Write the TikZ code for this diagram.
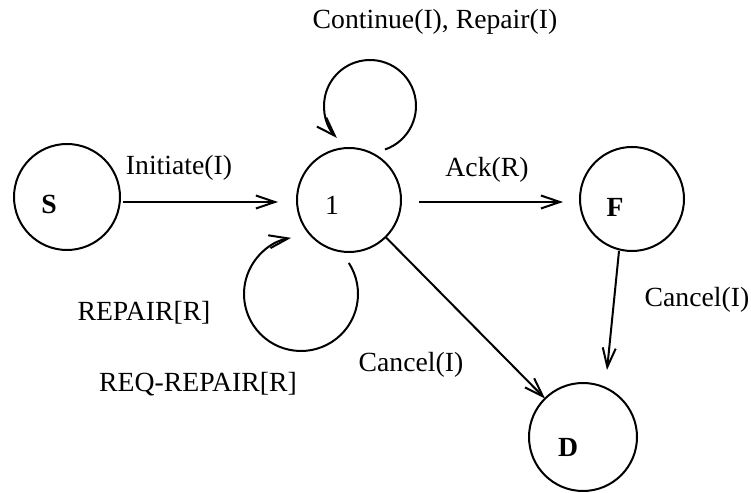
\documentclass[tikz,border=0pt]{standalone}
\usepackage{fontspec}
\setmainfont{Liberation Serif}
\usetikzlibrary{arrows.meta}
\begin{document}
\begin{tikzpicture}[x=1pt,y=1pt,
  state/.style={draw,circle,line width=2pt,inner sep=0pt,outer sep=0pt},
  arr/.style={line width=2pt,-{Straight Barb[length=19pt,width=13pt,line width=2pt]}},
  txt/.style={inner sep=0pt,font=\fontsize{27.7}{30}\selectfont},
  stxt/.style={txt,font=\fontsize{27.7}{30}\selectfont\bfseries}]
\useasboundingbox (0,0) rectangle (751,492);
\fill[white] (0,0) rectangle (751,492);

% states
\node[state,minimum size=106pt] (s)  at (67,295) {};
\node[state,minimum size=104pt] (n1) at (349,292) {};
\node[state,minimum size=104pt] (f)  at (632,293) {};
\node[state,minimum size=108pt] (d)  at (583,55) {};

% state names
\node[stxt] (sl)  at (49,288)  {S};
\node[txt]  (n1l) at (332,287) {1};
\node[stxt] (fl)  at (615,285) {F};
\node[stxt] (dl)  at (568,45)  {D};

% transitions
\draw[arr] ([shift={(3,-5)}]s.east) -- ([shift={(-19,-2)}]n1.west);
\draw[arr] ([shift={(18,-2)}]n1.east) -- ([shift={(-17,-3)}]f.west);
\draw[arr] (n1) -- (d);
\draw[arr] ([shift={(-13,0)}]f.south) -- ([shift={(24,13)}]d.north);

% self loops on state 1
\coordinate (uc) at (370,386);
\draw[arr] ([shift={(-71:46)}]uc) arc[start angle=-71,end angle=224,radius=46];
\coordinate (lc) at (301,198);
\draw[arr] ([shift={(33:57)}]lc) arc[start angle=33,end angle=-260,radius=57];

% transition labels
\node[txt] (linit) at (179,324) {Initiate(I)};
\node[txt] (lack)  at (487,322) {Ack(R)};
\node[txt] (lcont) at (435,470) {Continue(I), Repair(I)};
\node[txt] (lrep)  at (144,179) {REPAIR[R]};
\node[txt] (lreq)  at (198,108) {REQ-REPAIR[R]};
\node[txt] (lc1)   at (411,127) {Cancel(I)};
\node[txt] (lc2)   at (697,192) {Cancel(I)};
\end{tikzpicture}
\end{document}
